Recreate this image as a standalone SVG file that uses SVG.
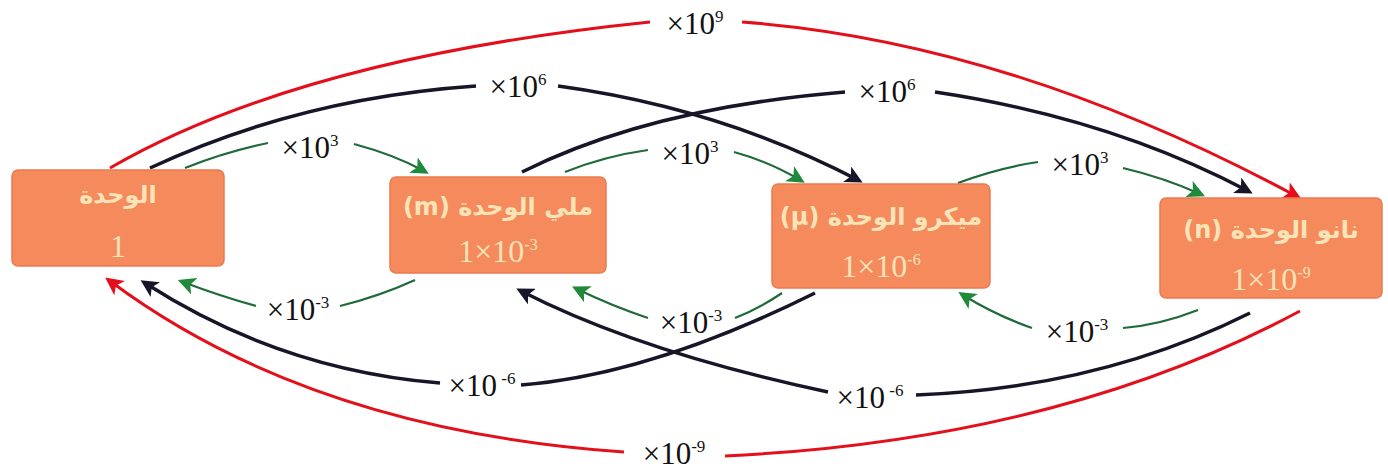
<svg xmlns="http://www.w3.org/2000/svg" width="1388" height="472" viewBox="0 0 1388 472">
<style>
.box{fill:#F58A5D;stroke:#EB7A4E;stroke-width:1.5}
.ar{font-family:"DejaVu Sans","Noto Sans",sans-serif;font-size:24px;font-weight:bold;fill:#F9E4B8;text-anchor:middle;direction:rtl}
.num{font-family:"Liberation Serif",serif;font-size:32px;fill:#F9E4B8;text-anchor:middle}
.lbl{font-family:"Liberation Serif",serif;font-size:31px;fill:#111;text-anchor:middle}
.sup{font-size:17px}
.red{fill:none;stroke:#E3101C;stroke-width:3}
.blk{fill:none;stroke:#161628;stroke-width:3.5}
.grn{fill:none;stroke:#1F6A3A;stroke-width:2.2}
</style>
<defs>
<marker id="aR" markerWidth="6" markerHeight="6" refX="4" refY="3" orient="auto" markerUnits="strokeWidth"><path d="M0,0 L6,3 L0,6 L1.5,3 z" fill="#E3101C"/></marker>
<marker id="aB" markerWidth="5" markerHeight="5" refX="3.5" refY="2.5" orient="auto" markerUnits="strokeWidth"><path d="M0,0 L5,2.5 L0,5 L1.2,2.5 z" fill="#161628"/></marker>
<marker id="aG" markerWidth="8" markerHeight="8" refX="5.5" refY="4" orient="auto" markerUnits="strokeWidth"><path d="M0,0 L8,4 L0,8 L2,4 z" fill="#1F8A3A"/></marker>
</defs>

<g id="connectors">
<!-- top red x10^9 -->
<path class="red" d="M110,168 Q300,58 650,22"/>
<path class="red" d="M742,22 Q1010,42 1296,196" marker-end="url(#aR)"/>
<!-- top black x10^6 left -->
<path class="blk" d="M150,168 Q300,98 476,86"/>
<path class="blk" d="M558,86 Q720,108 858,180" marker-end="url(#aB)"/>
<!-- top black x10^6 right -->
<path class="blk" d="M522,172 Q650,108 845,92"/>
<path class="blk" d="M935,92 Q1110,118 1248,191" marker-end="url(#aB)"/>
<!-- top green x10^3 -->
<path class="grn" d="M185,168 Q225,152 268,143"/>
<path class="grn" d="M354,144 Q395,155 424,171" marker-end="url(#aG)"/>
<path class="grn" d="M565,172 Q605,156 648,150"/>
<path class="grn" d="M734,152 Q770,162 800,180" marker-end="url(#aG)"/>
<path class="grn" d="M958,183 Q998,168 1038,162"/>
<path class="grn" d="M1123,168 Q1165,178 1200,194" marker-end="url(#aG)"/>
<!-- bottom red x10^-9 -->
<path class="red" d="M1300,311 Q1060,440 725,456"/>
<path class="red" d="M624,452 Q310,430 110,281" marker-end="url(#aR)"/>
<!-- bottom black x10^-6 -->
<path class="blk" d="M815,293 Q650,375 521,385"/>
<path class="blk" d="M440,383 Q280,370 145,283" marker-end="url(#aB)"/>
<path class="blk" d="M1250,313 Q1100,388 916,395"/>
<path class="blk" d="M828,392 Q640,352 521,291" marker-end="url(#aB)"/>
<!-- bottom green x10^-3 -->
<path class="grn" d="M415,280 Q380,296 340,306"/>
<path class="grn" d="M256,306 Q220,296 183,282" marker-end="url(#aG)"/>
<path class="grn" d="M782,293 Q760,308 735,318"/>
<path class="grn" d="M648,318 Q612,306 577,289" marker-end="url(#aG)"/>
<path class="grn" d="M1198,310 Q1160,325 1123,328"/>
<path class="grn" d="M1032,328 Q995,315 963,295" marker-end="url(#aG)"/>
<!-- labels -->
<text class="lbl" x="695" y="34">×10<tspan class="sup" dy="-12">9</tspan></text>
<text class="lbl" x="518" y="97">×10<tspan class="sup" dy="-12">6</tspan></text>
<text class="lbl" x="887" y="102">×10<tspan class="sup" dy="-12">6</tspan></text>
<text class="lbl" x="310" y="158">×10<tspan class="sup" dy="-12">3</tspan></text>
<text class="lbl" x="690" y="164">×10<tspan class="sup" dy="-12">3</tspan></text>
<text class="lbl" x="1080" y="175">×10<tspan class="sup" dy="-12">3</tspan></text>
<text class="lbl" x="298" y="320">×10<tspan class="sup" dy="-12">-3</tspan></text>
<text class="lbl" x="691" y="333">×10<tspan class="sup" dy="-12">-3</tspan></text>
<text class="lbl" x="1077" y="342">×10<tspan class="sup" dy="-12">-3</tspan></text>
<text class="lbl" x="482" y="396">×10<tspan class="sup" dy="-12"> -6</tspan></text>
<text class="lbl" x="870" y="408">×10<tspan class="sup" dy="-12"> -6</tspan></text>
<text class="lbl" x="674" y="464">×10<tspan class="sup" dy="-12">-9</tspan></text>
</g>

<g id="node-unit">
<rect class="box" x="12" y="170" width="212" height="96" rx="6"/>
<text class="ar" x="118" y="203">الوحدة</text>
<text class="num" x="118" y="257">1</text>
</g>
<g id="node-milli">
<rect class="box" x="390" y="177" width="216" height="96" rx="6"/>
<text class="ar" x="498" y="215">ملي الوحدة (m)</text>
<text class="num" x="498" y="262">1×10<tspan dy="-12" font-size="16">-3</tspan></text>
</g>
<g id="node-micro">
<rect class="box" x="772" y="184" width="218" height="104" rx="6"/>
<text class="ar" x="881" y="225">ميكرو الوحدة (µ)</text>
<text class="num" x="881" y="277">1×10<tspan dy="-12" font-size="16">-6</tspan></text>
</g>
<g id="node-nano">
<rect class="box" x="1160" y="198" width="222" height="100" rx="6"/>
<text class="ar" x="1271" y="238">نانو الوحدة (n)</text>
<text class="num" x="1271" y="290">1×10<tspan dy="-12" font-size="16">-9</tspan></text>
</g>
</svg>
